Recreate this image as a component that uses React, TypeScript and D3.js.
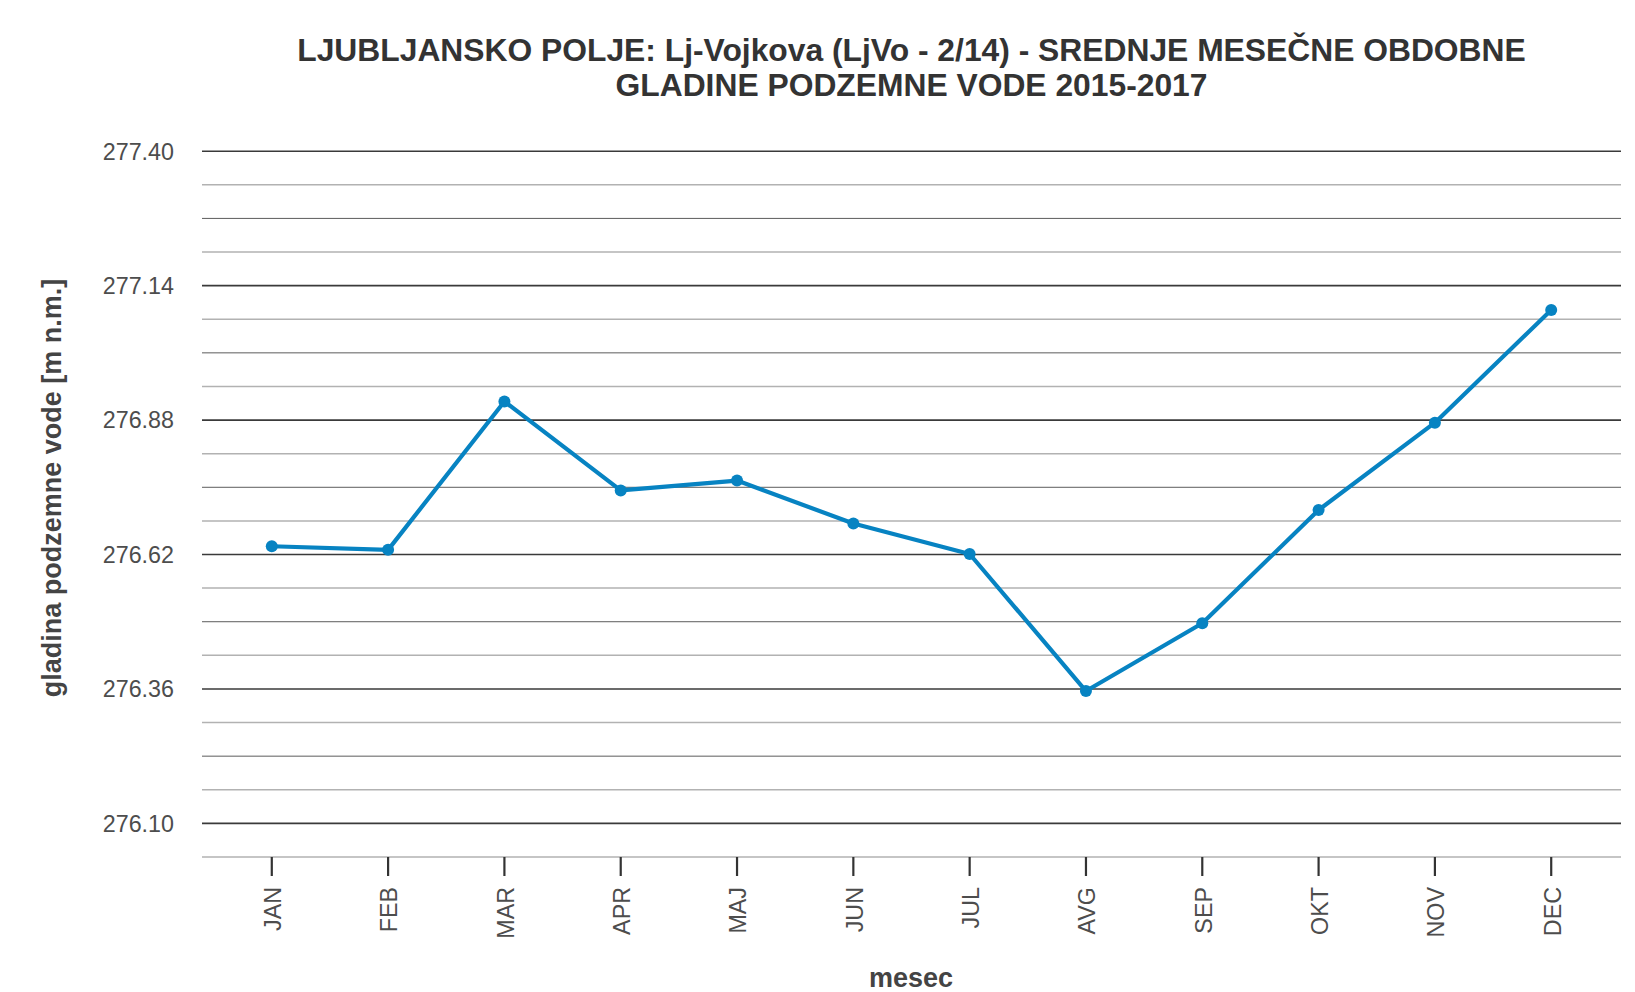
import * as d3 from 'd3'

// chart values
const months = ['JAN', 'FEB', 'MAR', 'APR', 'MAJ', 'JUN', 'JUL', 'AVG', 'SEP', 'OKT', 'NOV', 'DEC']
const levels = [276.636, 276.629, 276.916, 276.744, 276.763, 276.68, 276.621, 276.356, 276.487, 276.706, 276.875, 277.093]
const yTicks = [276.1, 276.36, 276.62, 276.88, 277.14, 277.4]
const titleLines = [
  'LJUBLJANSKO POLJE: Lj-Vojkova (LjVo - 2/14) - SREDNJE MESEČNE OBDOBNE',
  'GLADINE PODZEMNE VODE 2015-2017',
]
const yTitle = 'gladina podzemne vode [m n.m.]'
const xTitle = 'mesec'

const W = 1635
const H = 992
const font = '"Liberation Sans", Arial, sans-serif'
const lineColor = '#0783c2'

const App = () => {
  // panel
  const left = 202, right = 1621, top = 151.2, bottom = 857

  const x = d3.scalePoint<string>().domain(months).range([left, right]).padding(0.6)

  const step = yTicks[1] - yTicks[0]
  const y = d3.scaleLinear()
    .domain([yTicks[0] - step / 4, yTicks[yTicks.length - 1]])
    .range([bottom, top])

  // minor grid: quarter lines light, half lines darker
  const minors: { v: number, kind: string }[] = [{ v: yTicks[0] - step / 4, kind: 'q' }]
  for (let i = 0; i < yTicks.length - 1; i++) {
    const a = yTicks[i]
    const s = (yTicks[i + 1] - a) / 4
    minors.push({ v: a + s, kind: 'q' })
    minors.push({ v: a + 2 * s, kind: 'h' })
    minors.push({ v: a + 3 * s, kind: 'q' })
  }

  const pts = months.map((m, i) => ({ m, v: levels[i] }))
  const line = d3.line<{ m: string, v: number }>()
    .x(d => x(d.m) as number)
    .y(d => y(d.v))

  const cx = (left + right) / 2

  return (
    <svg width={W} height={H} style={{ position: 'absolute', left: 0, top: 0, background: '#fff' }}
      fontFamily={font}>
      <rect x={0} y={0} width={W} height={H} fill="#fff" />

      {/* title */}
      {titleLines.map((t, i) => (
        <text key={i} x={cx} y={61 + i * 34.5} textAnchor="middle" fontSize={31.8}
          fontWeight="bold" fill="#333">{t}</text>
      ))}

      {/* grid */}
      {minors.map((d, i) => (
        <line key={'m' + i} x1={left} x2={right} y1={y(d.v)} y2={y(d.v)}
          stroke={d.kind === 'q' ? '#b2b2b2' : '#5c5c5c'}
          strokeWidth={d.kind === 'q' ? 1.5 : 1} />
      ))}
      {yTicks.map(t => (
        <line key={'g' + t} x1={left} x2={right} y1={y(t)} y2={y(t)} stroke="#3a3a3a" strokeWidth={1.6} />
      ))}

      {/* y tick labels */}
      {yTicks.map(t => (
        <text key={'yl' + t} x={174} y={y(t)} dy="0.36em" textAnchor="end" fontSize={23.3}
          fill="#4d4d4d">{t.toFixed(2)}</text>
      ))}

      {/* x ticks and labels */}
      {months.map(m => (
        <g key={m}>
          <line x1={x(m)} x2={x(m)} y1={bottom} y2={bottom + 19} stroke="#333" strokeWidth={2.2} />
          <text transform={`translate(${x(m)},${bottom + 30}) rotate(-90)`} dy="0.4em"
            textAnchor="end" fontSize={23.3} fill="#4d4d4d">{m}</text>
        </g>
      ))}

      {/* series */}
      <path d={line(pts) || ''} fill="none" stroke={lineColor} strokeWidth={4.2}
        strokeLinejoin="round" />
      {pts.map(d => (
        <circle key={'p' + d.m} cx={x(d.m)} cy={y(d.v)} r={6} fill={lineColor} />
      ))}

      {/* axis titles */}
      <text transform={`translate(60.5,488) rotate(-90)`} textAnchor="middle" fontSize={27}
        fontWeight="bold" fill="#444">{yTitle}</text>
      <text x={911} y={987} textAnchor="middle" fontSize={27} fontWeight="bold" fill="#444">{xTitle}</text>
    </svg>
  )
}

export default App
